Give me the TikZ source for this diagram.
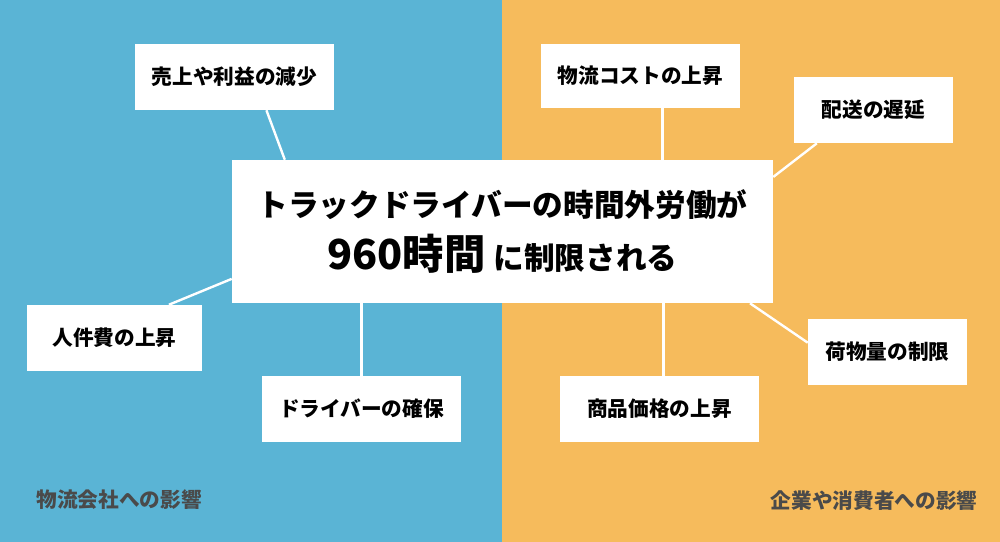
\documentclass[tikz,border=0pt]{standalone}
\usepackage{fontspec}
\setmainfont{Noto Sans CJK JP}
\usetikzlibrary{calc}
\definecolor{bgblue}{HTML}{5AB4D5}
\definecolor{bgorange}{HTML}{F6BB5C}
\definecolor{labelgray}{HTML}{4A4A4A}
\begin{document}
\begin{tikzpicture}[x=0.75pt,y=-0.75pt,
  box/.style={fill=white, inner sep=0pt, minimum height=49.5pt, font=\fontsize{15.5}{18}\selectfont\bfseries, text=black},
  link/.style={draw=white, line width=1.8pt},
  side/.style={font=\fontsize{15.5}{18}\selectfont\bfseries, text=labelgray}]
\useasboundingbox (0,0) rectangle (1000,542);
\fill[bgblue] (0,0) rectangle (502,542);
\fill[bgorange] (502,0) rectangle (1000,542);
% central box
\node[fill=white, inner sep=0pt, minimum width=405.75pt, minimum height=107.25pt, align=center] (M) at (502.5,231.5)
  {\bfseries\fontsize{23}{27}\selectfont トラックドライバーの時間外労働が\\[10.5pt]
   \bfseries{\fontsize{31}{27}\selectfont 960時間}\hspace{6pt}{\fontsize{23}{27}\selectfont に制限される}};
% outer boxes
\node[box, minimum width=149.25pt] (A) at (234.5,77) {売上や利益の減少};
\node[box, minimum width=131.25pt] (B) at (114.5,338) {人件費の上昇};
\node[box, minimum width=149.25pt] (C) at (361.5,409) {ドライバーの確保};
\node[box, minimum width=149.25pt, minimum height=48pt] (D) at (640.5,76) {物流コストの上昇};
\node[box, minimum width=119.25pt] (E) at (873.5,110) {配送の遅延};
\node[box, minimum width=119.25pt] (F) at (887.5,352) {荷物量の制限};
\node[box, minimum width=149.25pt] (G) at (659.5,409) {商品価格の上昇};
% connectors
\draw[link] ($(A.south west)!0.66!(A.south east)$) -- ($(M.north west)!0.098!(M.north east)$);
\draw[link] ($(B.north west)!0.81!(B.north east)$) -- ($(M.north west)!0.83!(M.south west)$);
\draw[link] ($(C.north west)!0.5!(C.north east)$) coordinate (c1) -- (c1 |- M.south);
\draw[link] ($(D.south west)!0.61!(D.south east)$) coordinate (d1) -- (d1 |- M.north);
\draw[link] ($(E.south west)!0.145!(E.south east)$) -- ($(M.north east)!0.12!(M.south east)$);
\draw[link] ($(M.south west)!0.957!(M.south east)$) -- ($(F.north west)!0.36!(F.south west)$);
\draw[link] ($(G.north west)!0.52!(G.north east)$) coordinate (g1) -- (g1 |- M.south);
% side labels
\node[side] (L) at (119,500) {物流会社への影響};
\node[side] (R) at (874,501) {企業や消費者への影響};
\end{tikzpicture}
\end{document}
